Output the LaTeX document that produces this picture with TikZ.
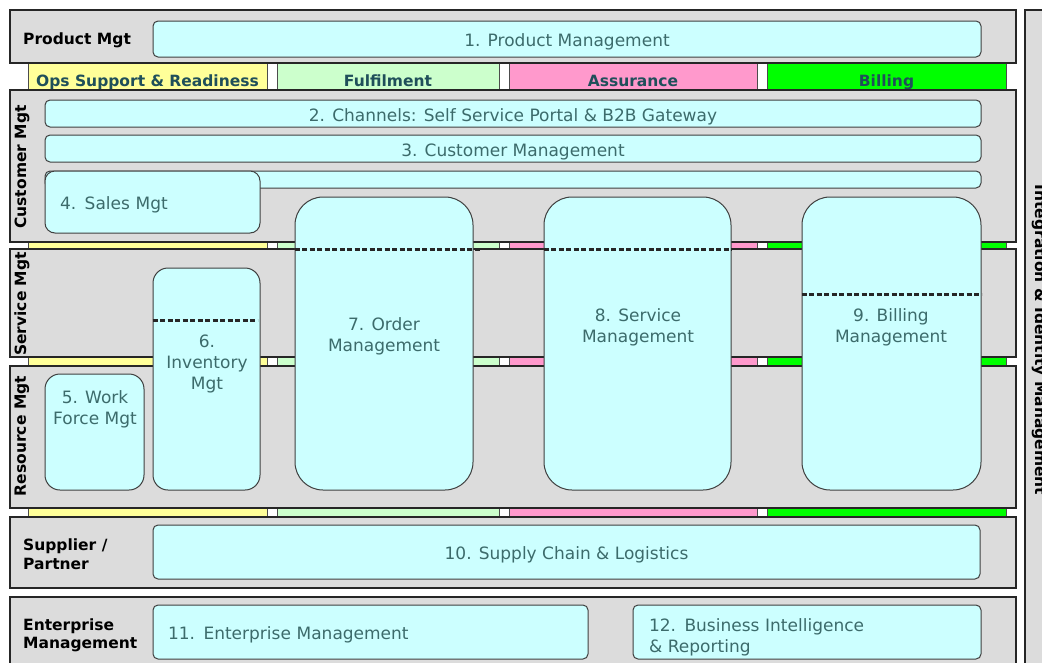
\documentclass[tikz,border=0pt]{standalone}
\usepackage{fontspec}
\setmainfont{DejaVu Sans}
\usetikzlibrary{calc}
\definecolor{grayb}{HTML}{DCDCDC}
\definecolor{cyanb}{HTML}{CCFFFF}
\definecolor{yel}{HTML}{FFFF99}
\definecolor{lgr}{HTML}{CCFFCC}
\definecolor{pnk}{HTML}{FF99CC}
\definecolor{grn}{HTML}{00FF00}
\definecolor{boxtxt}{HTML}{3C6B6B}
\definecolor{striptxt}{HTML}{1F4F5A}
\begin{document}
\begin{tikzpicture}[x=1pt,y=-1pt,
  gbox/.style={draw=black!85, fill=grayb, line width=1.1pt, inner sep=0pt},
  strip/.style={draw=black!70, line width=0.6pt, inner sep=0pt},
  cbox/.style={draw=black!75, fill=cyanb, line width=1pt, inner sep=0pt, rounded corners=5pt,
    text=boxtxt, font=\fontsize{17}{21}\selectfont, align=center},
  oneline/.style={text height=15pt, text depth=0pt},
  tallbox/.style={cbox, rounded corners=28pt},
  midbox/.style={cbox, rounded corners=15pt},
  boxlab/.style={text=boxtxt, font=\fontsize{17}{21}\selectfont, align=center, inner sep=0pt},
  rowlab/.style={font=\fontsize{15.5}{18.5}\selectfont\bfseries, text=black, inner sep=0pt, align=left},
  striplab/.style={font=\fontsize{15.5}{19}\selectfont\bfseries, text=striptxt, inner sep=0pt, anchor=base},
  divider/.style={dash pattern=on 5pt off 2.5pt, line width=2.2pt, draw=black!85},
]
\useasboundingbox (0,0) rectangle (1042,662);
\clip (0,0) rectangle (1042,662);
\fill[white] (0,0) rectangle (1042,662);

% colour strips
\foreach \cy/\h/\r in {76.5/27/1, 245.5/7/2, 361.5/9/3, 512.5/9/4} {
  \node[strip, fill=yel, minimum width=239pt, minimum height=\h pt] (sy\r) at (147.5,\cy) {};
  \node[strip, fill=lgr, minimum width=222pt, minimum height=\h pt] (sl\r) at (388,\cy) {};
  \node[strip, fill=pnk, minimum width=248pt, minimum height=\h pt] (sp\r) at (633,\cy) {};
  \node[strip, fill=grn, minimum width=239pt, minimum height=\h pt] (sg\r) at (886.5,\cy) {};
}
\node[striplab] (lops) at (147.5,86) {Ops Support \& Readiness};
\node[striplab] (lful) at (388,86) {Fulfilment};
\node[striplab] (lass) at (633,86) {Assurance};
\node[striplab] (lbil) at (886.5,86) {Billing};

% grey rows
\node[gbox, minimum width=1006pt, minimum height=53pt] (prodrow) at (513,36.5) {};
\node[gbox, minimum width=1006pt, minimum height=152pt] (custrow) at (513,166) {};
\node[gbox, minimum width=1006pt, minimum height=108pt] (servrow) at (513,303) {};
\node[gbox, minimum width=1006pt, minimum height=142pt] (resrow) at (513,437) {};
\node[gbox, minimum width=1006pt, minimum height=71pt] (supprow) at (513,552.5) {};
\node[gbox, minimum width=1006pt, minimum height=123pt] (entrow) at (513,658.5) {};
\node[gbox, minimum width=55pt, minimum height=710pt] (integ) at (1052.5,365) {};

% row labels
\node[rowlab, anchor=base west] (lprod) at (23,44) {Product Mgt};
\node[rowlab, rotate=90] (lcust) at (22,167) {Customer Mgt};
\node[rowlab, rotate=90] (lserv) at (22,304) {Service Mgt};
\node[rowlab, rotate=90] (lres) at (22,436) {Resource Mgt};
\node[rowlab, anchor=west] (lsupp) at (23,554) {Supplier /\\Partner};
\node[rowlab, anchor=west] (lent) at (23,635.5) {Enterprise\\Management};
\node[rowlab, rotate=-90, anchor=base] (linteg) at (1035,340) {Integration \& Identity Management};

% cyan boxes
\node[cbox, oneline, minimum width=828pt, minimum height=36pt] (b1) at (567,39) {1. Product Management};
\node[cbox, oneline, minimum width=936pt, minimum height=27pt] (b2) at (513,113.5) {2. Channels: Self Service Portal \& B2B Gateway};
\node[cbox, oneline, minimum width=936pt, minimum height=27pt] (b3) at (513,148.5) {3. Customer Management};
\node[cbox, minimum width=936pt, minimum height=17pt] (b3x) at (513,179.5) {};
\node[midbox, oneline, rounded corners=10pt, minimum width=215pt, minimum height=62pt, text width=185pt, align=left] (b4) at (152.5,202) {4. Sales Mgt};

\node[midbox, minimum width=99pt, minimum height=116pt] (b5) at (94.5,432) {};
\node[boxlab] (t5) at (95,409) {5. Work\\Force Mgt};

\node[midbox, minimum width=107pt, minimum height=222pt] (b6) at (206.5,379) {};
\draw[divider] ($(b6.north west)+(0,53)$) -- ($(b6.north east)+(-3,53)$);
\node[boxlab] (t6) at (207,364) {6.\\Inventory\\Mgt};

\node[tallbox, minimum width=178pt, minimum height=293pt] (b7) at (384,343.5) {};
\draw[divider] ($(b7.north west)+(0,53)$) -- ($(b7.north east)+(7,53)$);
\node[boxlab] (t7) at (384,336) {7. Order\\Management};

\node[tallbox, minimum width=187pt, minimum height=293pt] (b8) at (637.5,343.5) {};
\draw[divider] ($(b8.north west)+(0,53)$) -- ($(b8.north east)+(0,53)$);
\node[boxlab] (t8) at (638,327) {8. Service\\Management};

\node[tallbox, minimum width=179pt, minimum height=293pt] (b9) at (891.5,343.5) {};
\draw[divider] ($(b9.north west)+(0,98)$) -- ($(b9.north east)+(0,98)$);
\node[boxlab] (t9) at (891,327) {9. Billing\\Management};

\node[cbox, oneline, minimum width=827pt, minimum height=54pt] (b10) at (566.5,552) {10. Supply Chain \& Logistics};
\node[cbox, oneline, minimum width=435pt, minimum height=54pt, text width=405pt, align=left] (b11) at (370.5,632) {11. Enterprise Management};
\node[cbox, text height=19pt, text depth=20pt, minimum width=348pt, minimum height=54pt, text width=316pt, align=left] (b12) at (807,632) {12. Business Intelligence\\\& Reporting};
\end{tikzpicture}
\end{document}
